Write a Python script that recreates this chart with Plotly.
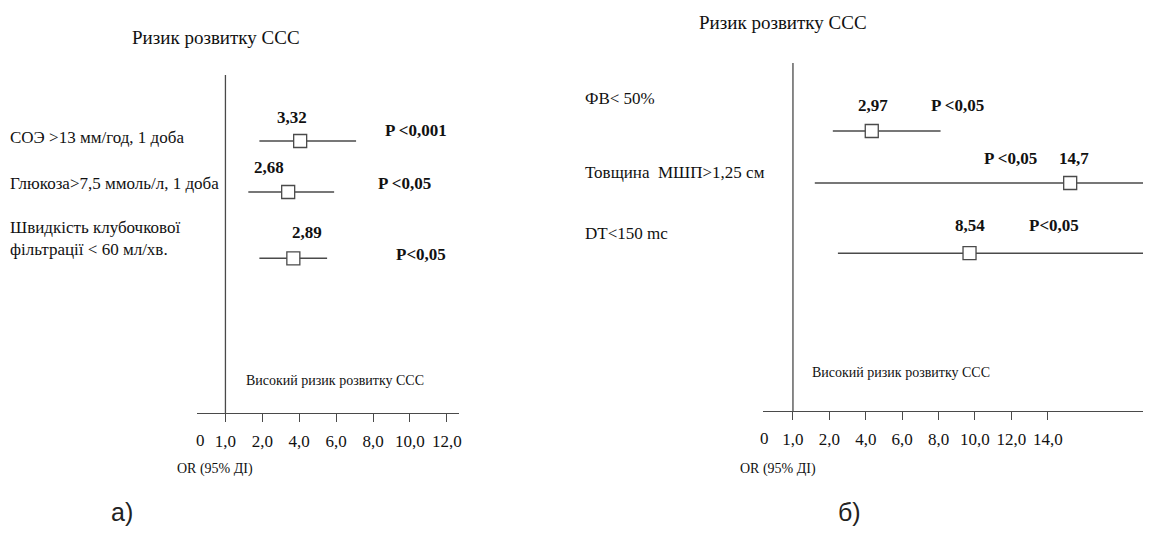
import numpy as np
import plotly.graph_objects as go

# ---------------- data ----------------
LEFT_LABELS = ["СОЭ >13 мм/год, 1 доба",
               "Глюкоза>7,5 ммоль/л, 1 доба",
               "Швидкість клубочкової<br>фільтрації < 60 мл/хв."]
LEFT_OR_TEXT = ["3,32", "2,68", "2,89"]
LEFT_P = ["P <0,001", "P <0,05", "P<0,05"]
LEFT_EST = [4.05, 3.40, 3.68]   # box position read on the drawn scale
LEFT_LO = [1.92, 1.62, 1.92]
LEFT_HI = [7.08, 5.89, 5.51]

RIGHT_LABELS = ["ФВ< 50%", "Товщина  МШП>1,25 см", "DT<150 mc"]
RIGHT_OR_TEXT = ["2,97", "14,7", "8,54"]
RIGHT_P = ["P <0,05", "P <0,05", "P<0,05"]
RIGHT_EST = [4.33, 15.23, 9.70]
RIGHT_LO = [2.19, 1.60, 2.47]
RIGHT_HI = [8.11, 19.3, 19.5]

TICKS_LEFT = [1, 2, 4, 6, 8, 10, 12]
TICKS_RIGHT = [1, 2, 4, 6, 8, 10, 12, 14]
TITLE = "Ризик розвитку ССС"
HIGH_RISK = "Високий ризик розвитку ССС"
AXIS_TITLE = "OR (95% ДІ)"
PANEL_TAGS = ["а)", "б)"]

# ---------------- drawn (piecewise) OR scale ----------------
SCALE_OR = [1, 2, 4, 6, 8, 10, 12, 14, 40]
SCALE_POS = [0, 1, 2, 3, 4, 5, 6, 7, 20]


def pos(v):
    return np.interp(np.asarray(v, dtype=float), SCALE_OR, SCALE_POS)


def fmt(v):
    return f"{v:.1f}".replace(".", ",")


W, H = 1151, 534
OFF = 8  # page body margin


def px(x):
    return (x - OFF) / W


def py(y):
    return 1 - (y - OFF) / H


SERIF = "Liberation Serif, Times New Roman, serif"
INK = "#111111"
LINE = "#4a4a4a"

# ---------------- layout constants ----------------
PANELS = [
    dict(xa="x", ya="y", xd=[px(197), px(460)], xr=[-0.784, 6.324],
         yd=[py(413), py(75)], yr=[5.333, -1.294], rows=[0, 1, 2.3],
         labels=LEFT_LABELS, est=LEFT_EST, lo=LEFT_LO, hi=LEFT_HI,
         ortext=LEFT_OR_TEXT, p=LEFT_P, ticks=TICKS_LEFT,
         val_dx=[-8, -19, 14], val_dy=[24, 25, 26],
         p_x=[5.16, 4.84, 5.30], p_dy=[11, 9, 4],
         lab_x=px(8), lab_dy=[4, 9, 20], zero_x=-0.68,
         title_x=px(217), title_y=py(37),
         hr_x=px(245), hr_y=py(380), ax_x=px(175), tag_x=px(122)),
    dict(xa="x2", ya="y2", xd=[px(765), px(1151)], xr=[-0.822, 9.753],
         yd=[py(411), py(63)], yr=[5.385, -1.308], rows=[0, 1, 2.35],
         labels=RIGHT_LABELS, est=RIGHT_EST, lo=RIGHT_LO, hi=RIGHT_HI,
         ortext=RIGHT_OR_TEXT, p=RIGHT_P, ticks=TICKS_RIGHT,
         val_dx=[1, 4, 0], val_dy=[26, 25, 28],
         p_x=[4.52, 5.97, 7.18], p_dy=[26, 25, 28],
         lab_x=px(585), lab_dy=[33, 11, 20], zero_x=-0.79,
         title_x=px(785), title_y=py(23),
         hr_x=px(812), hr_y=py(372), ax_x=px(740), tag_x=px(852)),
]

fig = go.Figure()
annotations = []
shapes = []

for k, P in enumerate(PANELS):
    xa, ya = P["xa"], P["ya"]
    # confidence interval lines
    for i in range(len(P["est"])):
        fig.add_trace(go.Scatter(
            x=pos([P["lo"][i], P["hi"][i]]), y=[P["rows"][i]] * 2,
            xaxis=xa, yaxis=ya, mode="lines",
            line=dict(color=LINE, width=1.6), hoverinfo="skip",
            showlegend=False, cliponaxis=False))
    # point estimates
    fig.add_trace(go.Scatter(
        x=pos(P["est"]), y=P["rows"], xaxis=xa, yaxis=ya, mode="markers",
        marker=dict(symbol="square", size=13, color="white",
                    line=dict(color=LINE, width=1.3)),
        showlegend=False, cliponaxis=False))

    xr, yr = xa, ya
    # reference line at OR = 1
    shapes.append(dict(type="line", xref=xr, yref=yr,
                       x0=float(pos(1)), x1=float(pos(1)),
                       y0=P["yr"][1], y1=P["yr"][0],
                       line=dict(color=LINE, width=1.3)))

    for i in range(len(P["est"])):
        annotations.append(dict(
            xref="paper", yref=yr, x=P["lab_x"],
            y=P["rows"][i], yshift=P["lab_dy"][i], xanchor="left",
            yanchor="middle", align="left", showarrow=False,
            text=P["labels"][i], font=dict(family=SERIF, size=17, color=INK)))
        annotations.append(dict(
            xref=xr, yref=yr, x=float(pos(P["est"][i])), y=P["rows"][i],
            xshift=P["val_dx"][i], yshift=P["val_dy"][i], showarrow=False,
            xanchor="center", yanchor="middle",
            text="<b>" + P["ortext"][i] + "</b>",
            font=dict(family=SERIF, size=17, color=INK)))
        annotations.append(dict(
            xref=xr, yref=yr, x=P["p_x"][i], y=P["rows"][i],
            yshift=P["p_dy"][i], showarrow=False, xanchor="center",
            yanchor="middle", text="<b>" + P["p"][i] + "</b>",
            font=dict(family=SERIF, size=17, color=INK)))

    annotations.append(dict(xref=xr, yref="paper", x=P["zero_x"], y=P["yd"][0],
                            yshift=-27, showarrow=False, xanchor="center",
                            yanchor="middle", text="0",
                            font=dict(family=SERIF, size=17, color=INK)))
    annotations.append(dict(xref="paper", yref="paper", x=P["title_x"],
                            y=P["title_y"], showarrow=False, xanchor="center",
                            yanchor="middle", text=TITLE,
                            font=dict(family=SERIF, size=19, color=INK)))
    annotations.append(dict(xref="paper", yref="paper", x=P["hr_x"],
                            y=P["hr_y"], showarrow=False, xanchor="left",
                            yanchor="middle", text=HIGH_RISK,
                            font=dict(family=SERIF, size=14, color=INK)))
    annotations.append(dict(xref="paper", yref="paper", x=P["ax_x"],
                            y=py(469), showarrow=False, xanchor="left",
                            yanchor="middle", text=AXIS_TITLE,
                            font=dict(family=SERIF, size=14, color=INK)))
    annotations.append(dict(xref="paper", yref="paper", x=P["tag_x"],
                            y=py(512), showarrow=False, xanchor="center",
                            yanchor="middle", text=PANEL_TAGS[k],
                            font=dict(family="Liberation Sans, Arial", size=25,
                                      color="#222222")))

    axis_name = "xaxis" if xa == "x" else "xaxis2"
    yaxis_name = "yaxis" if ya == "y" else "yaxis2"
    fig.update_layout(**{
        axis_name: dict(domain=P["xd"], range=P["xr"], anchor=ya,
                        showline=True, linecolor=LINE, linewidth=1.3,
                        ticks="outside", ticklen=8, tickcolor=LINE,
                        tickwidth=1.3, showgrid=False, zeroline=False,
                        tickvals=[float(v) for v in pos(P["ticks"])],
                        ticktext=[fmt(v) for v in P["ticks"]],
                        ticklabelstandoff=4,
                        tickfont=dict(family=SERIF, size=17, color=INK),
                        fixedrange=True),
        yaxis_name: dict(domain=P["yd"], range=P["yr"], anchor=xa,
                         visible=False, showgrid=False, zeroline=False,
                         fixedrange=True),
    })

fig.update_layout(width=W, height=H, margin=dict(l=0, r=0, t=0, b=0),
                  paper_bgcolor="white", plot_bgcolor="white",
                  annotations=annotations, shapes=shapes, showlegend=False)

fig.write_html("out.html")
